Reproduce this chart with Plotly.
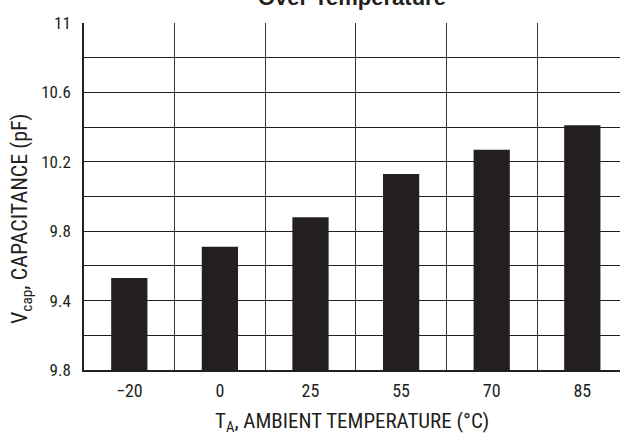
import plotly.graph_objects as go

# --- DATA ---
TEMPS = ["\u221220", "0", "25", "55", "70", "85"]
CAPACITANCE = [9.53, 9.71, 9.88, 10.13, 10.27, 10.41]
Y_BASE = 9.0
Y_TICKVALS = [9.0, 9.4, 9.8, 10.2, 10.6, 11.0]
Y_TICKTEXT = ["9.8", "9.4", "9.8", "10.2", "10.6", "11"]
# -------------

INK = "#231f20"
NARROW = "Liberation Sans Narrow, Arial Narrow, Roboto Condensed, Roboto, sans-serif"

W, H = 620, 437
L, T, B = 84, 23, 67

fig = go.Figure()

fig.add_trace(go.Bar(
    x=TEMPS,
    y=[v - Y_BASE for v in CAPACITANCE],
    base=Y_BASE,
    width=0.4,
    marker=dict(color=INK, line=dict(width=0)),
    hoverinfo="skip",
))

fig.update_layout(
    width=W,
    height=H,
    margin=dict(l=L, r=0, t=T, b=B),
    paper_bgcolor="white",
    plot_bgcolor="white",
    showlegend=False,
    font=dict(family=NARROW, color=INK, size=16),
    xaxis=dict(
        type="category",
        range=[-0.5, 5.416],
        tickson="boundaries",
        showgrid=True,
        gridcolor="#3a3a3a",
        gridwidth=1.2,
        ticks="",
        showline=True,
        linecolor=INK,
        linewidth=1.5,
        tickfont=dict(size=18),
        ticklabelstandoff=4,
        zeroline=False,
    ),
    yaxis=dict(
        range=[9.0, 11.0],
        tickmode="array",
        tickvals=Y_TICKVALS,
        ticktext=Y_TICKTEXT,
        showgrid=False,
        ticks="",
        showline=True,
        linecolor=INK,
        linewidth=1.5,
        tickfont=dict(size=17),
        ticklabelstandoff=8,
        zeroline=False,
        minor=dict(dtick=0.2, tick0=9.0, showgrid=True, gridcolor=INK, gridwidth=1.2, ticks=""),
    ),
    annotations=[
        # title is clipped by the top edge in the source image
        dict(
            text="<b>Over Temperature</b>",
            x=0.5, y=1.0, xref="paper", yref="paper",
            yshift=11, yanchor="bottom", showarrow=False,
            font=dict(family="Liberation Sans, Arial, sans-serif", size=22, color=INK),
        ),
        dict(
            text="V<sub>cap</sub>, CAPACITANCE (pF)",
            x=0, xref="paper", xshift=-63, xanchor="center",
            y=0.435, yref="paper", yanchor="middle",
            showarrow=False, textangle=-90,
            font=dict(size=22),
        ),
        dict(
            text="T<sub>A</sub>, AMBIENT TEMPERATURE (\u00b0C)",
            x=0.5, xref="paper", y=0, yref="paper",
            yshift=-52, yanchor="middle", showarrow=False,
            font=dict(size=21),
        ),
    ],
)

fig.write_html(
    "out.html",
    config={"displayModeBar": False},
    post_script="document.body.style.margin='0';",
)
